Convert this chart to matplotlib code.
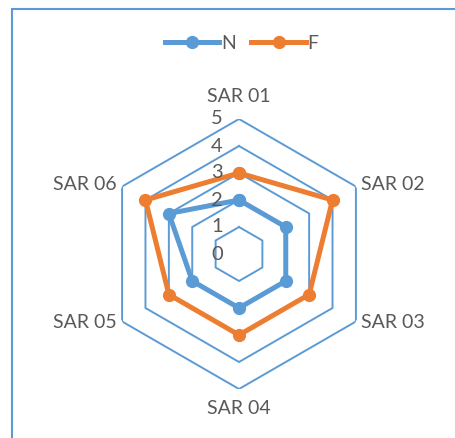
import numpy as np
import matplotlib
matplotlib.use('Agg')
import matplotlib.pyplot as plt
from matplotlib.patches import Rectangle
from matplotlib.transforms import offset_copy

categories = ['SAR 01', 'SAR 02', 'SAR 03', 'SAR 04', 'SAR 05', 'SAR 06']
n_values = [2, 2, 2, 2, 2, 3]
f_values = [3, 4, 3, 3, 3, 4]
levels = [0, 1, 2, 3, 4, 5]

blue = '#5B9BD5'
orange = '#ED7D31'
grey = '#595959'

plt.rcParams['font.family'] = ['Lato', 'DejaVu Sans']

fig = plt.figure(figsize=(4.56, 4.38), dpi=100)
ax = fig.add_axes([104/456, 49/438, 270/456, 270/438], projection='polar')
ax.set_theta_offset(np.pi / 2)
ax.set_theta_direction(-1)
ax.set_ylim(0, 5)
ax.grid(False)
ax.set_xticks([])
ax.set_yticks([])
ax.spines['polar'].set_visible(False)
ax.patch.set_visible(False)

angles = np.linspace(0, 2 * np.pi, len(categories), endpoint=False)
closed = np.append(angles, angles[0])

# hexagon gridlines
for lvl in levels[1:]:
    ax.plot(closed, [lvl] * len(closed), color=blue, lw=1.4, zorder=1)

# series
ax.plot(closed, n_values + n_values[:1], color=blue, lw=3.6, marker='o',
        markersize=8.5, label='N', zorder=3, solid_joinstyle='round')
ax.plot(closed, f_values + f_values[:1], color=orange, lw=3.6, marker='o',
        markersize=8.5, label='F', zorder=3, solid_joinstyle='round')

# value labels along the top axis
for lvl in levels:
    tr = offset_copy(ax.transData, fig=fig, x=-16, y=0, units='dots')
    ax.text(0, lvl, str(lvl), transform=tr, ha='right', va='center',
            fontsize=14.5, color=grey)

# category labels
placements = [
    (0, 22, 'center', 'center'),
    (5, 2, 'left', 'center'),
    (5, -1, 'left', 'center'),
    (0, -19, 'center', 'center'),
    (-5, -1, 'right', 'center'),
    (-5, 2, 'right', 'center'),
]
for ang, lab, (dx, dy, ha, va) in zip(angles, categories, placements):
    tr = offset_copy(ax.transData, fig=fig, x=dx, y=dy, units='dots')
    ax.text(ang, 5, lab, transform=tr, ha=ha, va=va, fontsize=14, color=grey)

fig.legend(loc='center', bbox_to_anchor=(0.53, 0.9), ncol=2, frameon=False,
           fontsize=14, handlelength=2.8, handletextpad=0.1, columnspacing=0.8,
           labelcolor=grey)

# chart border
fig.patches.append(Rectangle((12.5/456, -0.1), 1.2, (438 - 8.5)/438 + 0.1,
                             transform=fig.transFigure, fill=False,
                             edgecolor=blue, lw=1.5))

fig.savefig('out.png', dpi=100)
